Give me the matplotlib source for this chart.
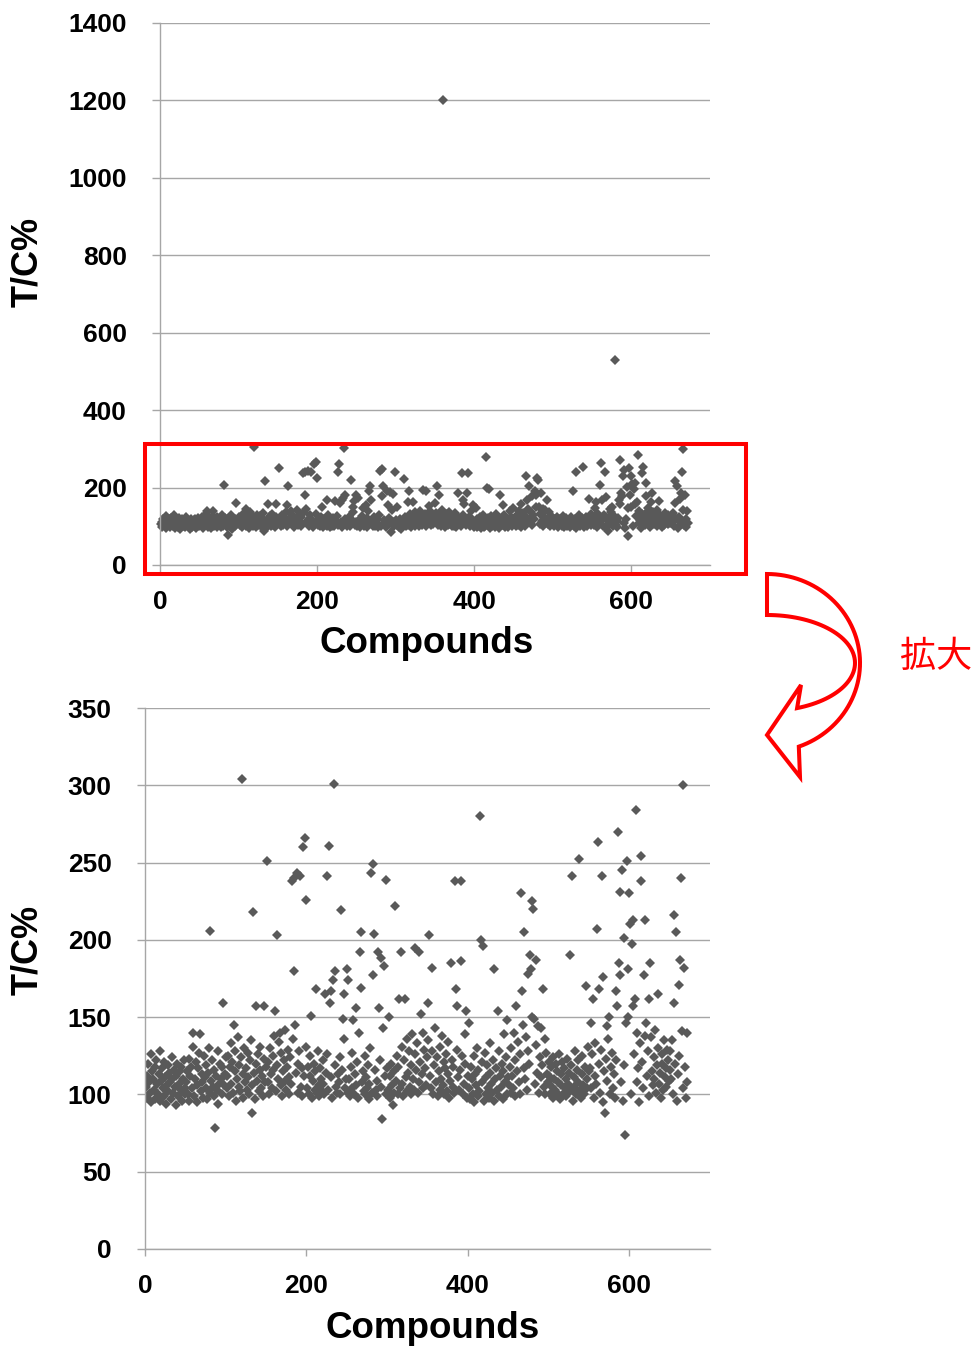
import matplotlib
matplotlib.use("Agg")
import matplotlib.pyplot as plt
from matplotlib.path import Path
from matplotlib.patches import PathPatch, Rectangle
import numpy as np

# ---------------- data ----------------
outlier_x = [60, 68, 81, 87, 97,
             110, 120, 132, 134, 138, 148,
             151, 161, 163, 167, 182, 184, 185, 186, 188, 192, 196, 198, 200,
             206, 212, 223, 226, 228, 229, 231, 233, 234, 235, 243, 245, 246, 247, 250,
             252, 258, 262, 265, 266, 267, 268, 280, 282, 283, 284, 289, 290, 293, 294, 295, 296, 299,
             302, 307, 310, 315, 317, 322, 335, 339, 342, 350,
             352, 355, 360, 379, 384, 385, 387, 391, 392, 396, 398,
             402, 415, 416, 419, 433, 437, 445, 449,
             460, 466, 467, 470, 474, 477, 478, 480, 481, 482, 485, 487, 493,
             526, 529, 538, 546,
             553, 555, 560, 561, 563, 566, 567, 570, 573, 575, 579, 584, 585, 586, 587, 588, 589,
             591, 594, 595, 596, 597, 598, 599, 600,
             601, 603, 604, 605, 607, 608, 614, 615, 618, 619, 620, 625, 626, 635,
             655, 656, 658, 662, 663, 664, 665, 666, 668, 671]
outlier_y = [140, 139, 206, 78, 159,
             145, 304, 88, 218, 157, 157,
             251, 154, 203, 140, 238, 240, 180, 145, 243, 241, 260, 266, 226,
             151, 168, 165, 241, 261, 159, 167, 174, 301, 180, 219, 149, 136, 165, 181,
             174, 148, 156, 140, 192, 205, 169, 243, 177, 249, 204, 192, 156, 188, 84, 143, 183, 239,
             150, 93, 222, 162, 192, 162, 195, 192, 152, 159,
             203, 182, 1201, 185, 238, 168, 157, 186, 238, 139, 154,
             146, 280, 200, 196, 181, 154, 139, 148,
             157, 230, 167, 205, 178, 190, 181, 225, 220, 149, 187, 144, 168,
             190, 241, 252, 170,
             146, 162, 207, 263, 168, 241, 176, 88, 144, 150, 530, 167, 157, 270, 185, 177, 231,
             245, 201, 74, 146, 251, 181, 150, 230,
             210, 197, 213, 157, 162, 284, 238, 254, 177, 213, 138, 162, 185, 165,
             159, 216, 205, 171, 187, 240, 141, 300, 182, 140]

# T/C% of the remaining compounds (dense band), in compound order
band_y = [
    105, 112, 98, 120, 108, 101, 126, 95, 115, 110, 103, 118, 97, 122, 107, 100, 113, 128, 96, 109,
    117, 104, 99, 121, 111, 94, 106, 119, 102, 114, 108, 97, 124, 110, 101, 116, 105, 93, 112, 120,
    99, 107, 115, 103, 118, 96, 110, 122, 104, 100,
    108, 115, 100, 123, 96, 112, 118, 104, 131, 99, 110, 121, 106, 95, 117, 127, 102, 113, 108, 98,
    125, 111, 104, 119, 97, 114, 130, 101, 109, 122, 105, 99, 116, 112, 103, 128, 94, 107, 120, 110,
    100, 118, 106, 113, 124,
    112, 104, 125, 99, 118, 133, 107, 121, 101, 115, 128, 96, 110, 137, 105, 119, 102, 124, 113, 98,
    130, 108, 117, 103, 127, 111, 100, 122, 135, 106, 114, 97, 120, 109, 126, 102, 116, 131, 104, 112,
    99, 123, 108, 118,
    108, 121, 100, 130, 113, 104, 125, 116, 138, 102, 119, 110, 134, 106, 127, 99, 115, 122, 109, 142,
    103, 118, 129, 111, 100, 124, 107, 136, 114, 101, 120, 128, 105, 117, 99, 112, 131,
    104, 118, 100, 112, 125, 98, 109, 120, 103, 115, 101, 128, 106, 99, 117, 110, 102, 122, 107, 100,
    114, 126, 103, 111, 98, 119, 105, 101, 113, 108, 124, 100, 116, 104, 110,
    101, 110, 99, 118, 104, 127, 100, 113, 106, 121, 98, 108, 115, 102, 125, 100, 111, 104, 119, 97,
    107, 130, 101, 116, 103, 109, 99, 122, 105, 112, 100, 117,
    103, 112, 98, 120, 106, 101, 115, 109, 125, 100, 118, 104, 131, 107, 99, 122, 111, 136, 102, 114,
    128, 105, 119, 100, 139, 110, 103, 126, 116, 133, 101, 108, 121, 113, 140, 104, 129, 117, 106, 124,
    135, 112, 104, 128, 100, 119, 143, 108, 124, 99, 115, 131, 103, 110, 138, 106, 121, 100, 117, 126,
    102, 113, 134, 98, 109, 122, 105, 118, 101, 129, 111, 103, 116, 125, 100, 107, 120, 98, 112,
    104, 97, 118, 110, 100, 125, 95, 113, 106, 130, 99, 116, 102, 121, 108, 96, 127, 111, 100, 119,
    104, 98, 114, 133, 107, 101, 122, 96, 110, 117, 103, 128, 99, 112, 105, 120, 97, 115, 108, 124,
    100, 111,
    106, 118, 101, 130, 112, 104, 140, 122, 99, 115, 134, 108, 126, 100, 145, 117, 110, 137, 103, 128,
    120, 150, 107, 132, 114, 101, 124, 143, 111, 119, 105, 136, 100, 127, 113, 108, 121,
    112, 100, 118, 105, 124, 98, 110, 103, 120, 115, 101, 108, 126, 97, 113, 106, 121, 100, 117, 104,
    110, 99, 123, 107, 114, 102, 119, 96, 111, 105, 128, 100, 116, 108, 122, 103, 98, 113, 125, 106,
    100, 118, 110, 104, 131, 115,
    117, 104, 126, 98, 112, 133, 107, 120, 101, 129, 95, 115, 123, 109, 136, 100, 118, 127, 104, 113,
    98, 122, 108, 96, 119,
    100, 126, 140, 108, 117, 95, 133, 121, 104, 146, 112, 128, 99, 137, 115, 106, 124, 110, 142, 101,
    119, 130, 107, 114, 98, 126, 120, 103, 135, 111, 117, 105, 129, 122, 109, 116,
    128, 110, 135, 100, 120, 96, 113, 125, 104, 118, 98, 108,
]

top_yticks = [0, 200, 400, 600, 800, 1000, 1200, 1400]
bottom_yticks = [0, 50, 100, 150, 200, 250, 300, 350]
xticks = [0, 200, 400, 600]
x_label = "Compounds"
y_label = "T/C%"
zoom_label = "拡大"

# compound numbers: outliers keep their own numbers, the band fills the rest
n_total = len(outlier_x) + len(band_y)
taken = set(outlier_x)
band_x = [c for c in range(1, n_total + 1) if c not in taken][:len(band_y)]
xs = np.array(list(outlier_x) + band_x, dtype=float)
ys = np.array(list(outlier_y) + band_y[:len(band_x)], dtype=float)

# ---------------- figure ----------------
W, H = 977, 1348
fig = plt.figure(figsize=(W / 100, H / 100), dpi=100)
fig.patch.set_facecolor("white")

grey = "#a6a6a6"
mcol = "#595959"
font = "Liberation Sans"


def px_axes(l, t, r, b):
    return fig.add_axes([l / W, 1 - b / H, (r - l) / W, (b - t) / H])


def style(ax, yticks, ylim):
    ax.set_xlim(0, 700)
    ax.set_ylim(*ylim)
    ax.set_xticks(xticks)
    ax.set_yticks(yticks)
    for s in ("top", "right"):
        ax.spines[s].set_visible(False)
    for s in ("left", "bottom"):
        ax.spines[s].set_color(grey)
        ax.spines[s].set_linewidth(1.0)
    ax.yaxis.grid(True, color=grey, linewidth=1.0)
    ax.set_axisbelow(True)
    ax.tick_params(axis="y", direction="out", length=6, width=1, color=grey, pad=18,
                   labelsize=19)
    ax.tick_params(axis="x", direction="out", length=5, width=1, color=grey, pad=13,
                   labelsize=19)
    for lab in ax.get_xticklabels() + ax.get_yticklabels():
        lab.set_fontweight("bold")
        lab.set_family(font)


ax1 = px_axes(160, 23, 710, 565)
ax1.plot(xs, ys, linestyle="none", marker="D", markersize=4.9, color=mcol,
         markeredgewidth=0, clip_on=False)
style(ax1, top_yticks, (0, 1400))

ax2 = px_axes(145, 708, 710, 1249)
ax2.plot(xs, ys, linestyle="none", marker="D", markersize=5.3, color=mcol,
         markeredgewidth=0)
style(ax2, bottom_yticks, (0, 350))

# axis titles
fig.text(427 / W, 1 - 644 / H, x_label, ha="center", va="center", fontsize=26.5,
         fontweight="bold", family=font)
fig.text(433 / W, 1 - 1329 / H, x_label, ha="center", va="center", fontsize=26.5,
         fontweight="bold", family=font)
fig.text(28 / W, 1 - 262 / H, y_label, ha="center", va="center", rotation=90,
         fontsize=26, fontweight="bold", family=font)
fig.text(28 / W, 1 - 950 / H, y_label, ha="center", va="center", rotation=90,
         fontsize=26, fontweight="bold", family=font)

# overlay in pixel coordinates for annotations
ov = fig.add_axes([0, 0, 1, 1], zorder=10)
ov.set_xlim(0, W)
ov.set_ylim(H, 0)
ov.axis("off")
ov.patch.set_alpha(0)

ov.add_patch(Rectangle((144.5, 443.5), 601.5, 130.5, fill=False, edgecolor="#ff0000",
                       linewidth=2.9, joinstyle="miter"))

cx, cy = 767, 663
t_out = np.radians(np.linspace(90, -70, 60))
outer = np.column_stack([cx + 93 * np.cos(t_out), cy - 89 * np.sin(t_out)])
t_in = np.radians(np.linspace(-70, 90, 60))
inner = np.column_stack([cx + 88 * np.cos(t_in), cy - 48 * np.sin(t_in)])
head = np.array([[800, 777], [767, 735], [801, 685]])
verts = np.vstack([outer, head, inner, outer[:1]])
codes = [Path.MOVETO] + [Path.LINETO] * (len(verts) - 2) + [Path.CLOSEPOLY]
ov.add_patch(PathPatch(Path(verts, codes), fill=False, edgecolor="#ff0000",
                       linewidth=2.9, joinstyle="miter"))

ov.text(936, 657, zoom_label, ha="center", va="center", fontsize=26, color="#ff0000",
        family=["Noto Sans CJK JP", "DejaVu Sans"])

fig.savefig("out.png", dpi=100, facecolor="white")
